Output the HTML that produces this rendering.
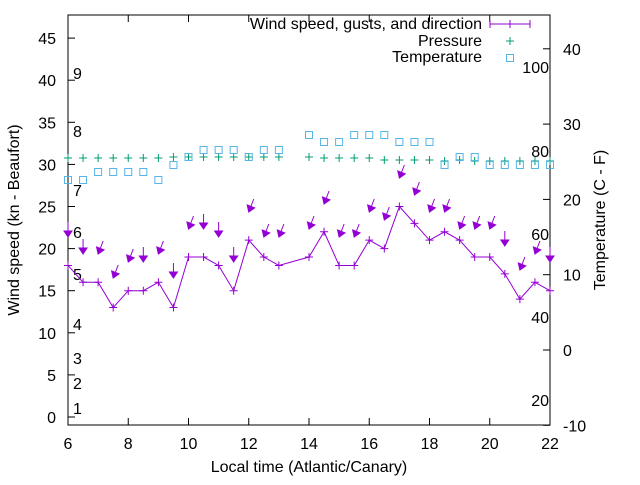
<!DOCTYPE html>
<html><head><meta charset="utf-8"><style>
body{margin:0;background:#fff}
svg{font-family:"Liberation Sans",sans-serif;font-size:16px}
</style></head><body>
<svg id="s" width="640" height="480" xmlns="http://www.w3.org/2000/svg"></svg>
<script>
const s=document.getElementById('s');let h='';
const X=t=>68+(t-6)*30.125, Y=v=>417-8.42*v, TY=c=>350-7.53*c;
h+='<rect x="68" y="15" width="482" height="410" fill="none" stroke="#000" stroke-width="1"/>';
for(let v=0;v<=45;v+=5){let y=Y(v);h+=`<line x1="68" x2="75" y1="${y}" y2="${y}" stroke="#000"/><text x="56" y="${y+6}" text-anchor="end">${v}</text>`;}
for(let c=-10;c<=40;c+=10){let y=TY(c);h+=`<line x1="543" x2="550" y1="${y}" y2="${y}" stroke="#000"/><text x="563" y="${y+6}">${c}</text>`;}
for(let t=6;t<=22;t+=2){let x=X(t);h+=`<line x1="${x}" x2="${x}" y1="425" y2="418" stroke="#000"/><line x1="${x}" x2="${x}" y1="15" y2="22" stroke="#000"/><text x="${x}" y="449" text-anchor="middle">${t}</text>`;}
[[1,414],[2,389],[3,364],[4,330],[5,280],[6,238],[7,196],[8,137],[9,79]].forEach(([n,y])=>h+=`<text x="73" y="${y}">${n}</text>`);
[[100,73],[80,157],[60,240],[40,323],[20,406]].forEach(([n,y])=>h+=`<text x="549" y="${y}" text-anchor="end">${n}</text>`);
const T=[6,6.5,7,7.5,8,8.5,9,9.5,10,10.5,11,11.5,12,12.5,13,14,14.5,15,15.5,16,16.5,17,17.5,18,18.5,19,19.5,20,20.5,21,21.5,22];
const W=[18,16,16,13,15,15,16,13,19,19,18,15,21,19,18,19,22,18,18,21,20,25,23,21,22,21,19,19,17,14,16,15];
const G=[237,254,254,278,262,262,254,278,229,229,237,262,212,237,237,229,204,237,237,212,220,178,195,212,212,229,229,229,246,270,254,262];
const D=[0,0,1,1,1,0,1,0,1,0,0,0,1,1,1,1,1,1,1,1,1,1,1,1,1,1,1,1,0,1,1,0];
const TP=[180,180,172,172,172,172,180,165,157,150,150,150,157,150,150,135,142,142,135,135,135,142,142,142,165,157,157,165,165,165,165,165];
const P=[158,158,158,158,158,158,158,157,157,157,157,157,157,157,157,157,158,158,158,158,160,160,160,160,161,160,161,161,161,161,161,161];
const pur='#9400d3';
h+=`<polyline fill="none" stroke="${pur}" points="${T.map((t,i)=>X(t)+','+Y(W[i])).join(' ')}"/>`;
T.forEach((t,i)=>{let x=X(t),y=Y(W[i]);h+=`<path d="M${x-4} ${y}h8M${x} ${y-4}v8" stroke="${pur}"/>`;
 let gy=G[i],dx=D[i]?5:0,len=D[i]?13:15;
 let tx=x+dx,ty=gy-len,L=Math.hypot(dx,len),ux=(x-tx)/L,uy=(gy-ty)/L,px=-uy,py=ux;
 h+=`<line x1="${tx}" y1="${ty}" x2="${x}" y2="${gy}" stroke="${pur}"/>`;
 let bx=x-ux*6,by=gy-uy*6;
 h+=`<path d="M${x} ${gy} L${bx+px*4} ${by+py*4} L${bx-px*4} ${by-py*4} Z" fill="${pur}" stroke="${pur}"/>`;
 let pyy=P[i];h+=`<path d="M${x-4} ${pyy}h8M${x} ${pyy-4}v8" stroke="#009e73"/>`;
 let tpy=TP[i];h+=`<rect x="${x-3.5}" y="${tpy-3.5}" width="7" height="7" fill="none" stroke="#56b4e9"/>`;
});
h+=`<text x="482" y="29" text-anchor="end">Wind speed, gusts, and direction</text><line x1="490" x2="530" y1="24" y2="24" stroke="${pur}"/><path d="M490 20v8M530 20v8M506 24h8M510 20v8" stroke="${pur}"/>`;
h+=`<text x="482" y="46" text-anchor="end">Pressure</text><path d="M506 41h8M510 37v8" stroke="#009e73"/>`;
h+=`<text x="482" y="62" text-anchor="end">Temperature</text><rect x="506.5" y="54.5" width="7" height="7" fill="none" stroke="#56b4e9"/>`;
h+=`<text x="309" y="472" text-anchor="middle">Local time (Atlantic/Canary)</text>`;
h+=`<text transform="translate(19,220) rotate(-90)" text-anchor="middle">Wind speed (kn - Beaufort)</text>`;
h+=`<text transform="translate(605,220) rotate(-90)" text-anchor="middle">Temperature (C - F)</text>`;
s.innerHTML=h;
</script>
</body></html>
